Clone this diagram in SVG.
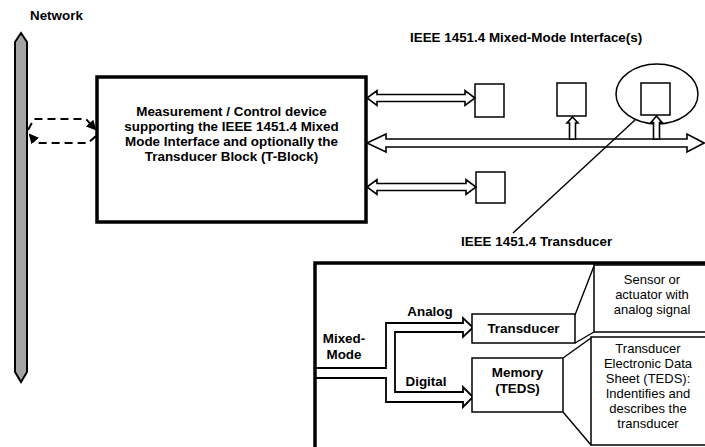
<svg xmlns="http://www.w3.org/2000/svg" width="705" height="447" viewBox="0 0 705 447">
<style>
text{font-family:"Liberation Sans",Arial,sans-serif;fill:#000}
.b{font-weight:bold;font-size:13.4px}
.r{font-size:13px}
.m{text-anchor:middle}
.box{fill:#fff;stroke:#000;stroke-width:1.5}
.thick{fill:none;stroke:#000;stroke-width:3.5}
.hollow{fill:#fff;stroke:#000;stroke-width:1.6;stroke-linejoin:miter}
.line{fill:none;stroke:#000;stroke-width:1.4}
.dash{fill:none;stroke:#000;stroke-width:2;stroke-dasharray:8,5}
</style>
<defs>
<marker id="ah" viewBox="0 0 10 10" refX="8" refY="5" markerWidth="5" markerHeight="5" orient="auto">
<path d="M0,0 L10,5 L0,10 Z" fill="#000"/>
</marker>
</defs>
<rect width="705" height="447" fill="#fff"/>

<g id="network">
<path d="M21,33 L27,42 L27,372 L21,382 L15,372 L15,42 Z" fill="#a4a4a4" stroke="#000" stroke-width="2"/>
<text class="b" x="30" y="20">Network</text>
</g>

<g id="device">
<rect class="thick" x="97" y="77" width="269" height="145" fill="#fff"/>
<text class="b m" x="231.5" y="116">Measurement / Control device</text>
<text class="b m" x="231.5" y="131">supporting the IEEE 1451.4 Mixed</text>
<text class="b m" x="231.5" y="146">Mode Interface and optionally the</text>
<text class="b m" x="231.5" y="161">Transducer Block (T-Block)</text>
</g>

<g id="interface-label">
<text class="b" x="410" y="42">IEEE 1451.4 Mixed-Mode Interface(s)</text>
</g>

<g id="iface1"><rect class="box" x="475" y="84" width="29" height="33"/></g>
<g id="iface2"><rect class="box" x="557" y="83" width="29" height="33"/></g>
<g id="iface3"><rect class="box" x="641" y="83" width="29" height="32"/></g>
<g id="iface4"><rect class="box" x="476" y="172" width="29" height="31"/></g>

<g id="transducer-callout">
<ellipse cx="657" cy="94" rx="41" ry="30" fill="none" stroke="#000" stroke-width="1.5"/>
<text class="b" x="461" y="246">IEEE 1451.4 Transducer</text>
</g>

<g id="connectors">
<path class="dash" d="M28,130 L34,119 L86,119 L95,129" marker-end="url(#ah)"/>
<path class="dash" d="M96,136 L88,143 L37,143 L30,135" marker-end="url(#ah)"/>
<path class="hollow" d="M367,98 L377,90.5 L377,94.5 L465,94.5 L465,90.5 L475,98 L465,105.5 L465,101.5 L377,101.5 L377,105.5 Z"/>
<path class="hollow" d="M367,187 L377,179.5 L377,183.5 L466,183.5 L466,179.5 L476,187 L466,194.5 L466,190.5 L377,190.5 L377,194.5 Z"/>
<path class="hollow" d="M367,143 L386,134 L386,139 L687,139 L687,134 L704,143 L687,152 L687,147 L386,147 L386,152 Z"/>
<path class="hollow" d="M572.5,117 L578,123 L575.5,123 L575.5,139 L569.5,139 L569.5,123 L567,123 Z"/>
<path class="hollow" d="M656.5,116 L662,122.5 L659.5,122.5 L659.5,139 L653.5,139 L653.5,122.5 L651,122.5 Z"/>
<path class="line" d="M635,120 L513,233"/>
</g>

<g id="mixed-mode-block">
<path class="thick" d="M315,447 L315,263 L705,263"/>
<text class="b m" x="344" y="343">Mixed-</text>
<text class="b m" x="344" y="359">Mode</text>
<text class="b m" x="430" y="316">Analog</text>
<text class="b m" x="426" y="386">Digital</text>
</g>

<g id="fork-arrow">
<path fill="none" stroke="#000" stroke-width="1.8" d="M315,368 L386,368 L386,323 L463,323 L463,318 L473,327.5 L463,337 L463,332 L395,332 L395,392 L463,392 L463,387 L473,397 L463,407 L463,402 L386,402 L386,378 L315,378"/>
</g>

<g id="transducer-box">
<rect class="box" x="472" y="314" width="103" height="29"/>
<text class="b m" x="523.5" y="333">Transducer</text>
</g>

<g id="memory-box">
<rect class="box" x="472" y="358" width="91" height="54"/>
<text class="b m" x="517.5" y="377">Memory</text>
<text class="b m" x="517.5" y="393">(TEDS)</text>
</g>

<g id="sensor-callout">
<path class="line" d="M575,315 L594,266 M575,343 L594,332"/>
<rect class="box" x="594" y="265" width="115" height="67" stroke-width="1.2"/>
<text class="r m" x="652" y="284">Sensor or</text>
<text class="r m" x="652" y="299">actuator with</text>
<text class="r m" x="652" y="314">analog signal</text>
</g>

<g id="teds-callout">
<path class="line" d="M563,358 L591,338 M563,412 L591,445"/>
<rect class="box" x="591" y="337" width="118" height="108" stroke-width="1.2"/>
<text class="r m" x="648" y="353">Transducer</text>
<text class="r m" x="648" y="368">Electronic Data</text>
<text class="r m" x="648" y="383">Sheet (TEDS):</text>
<text class="r m" x="648" y="398">Indentifies and</text>
<text class="r m" x="648" y="413">describes  the</text>
<text class="r m" x="648" y="428">transducer</text>
</g>
</svg>
